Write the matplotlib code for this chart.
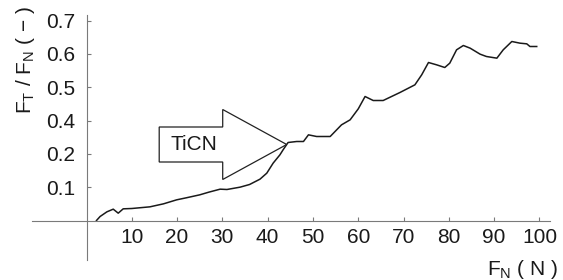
import numpy as np
import matplotlib
matplotlib.use("Agg")
import matplotlib.pyplot as plt
from matplotlib.patches import Polygon
from matplotlib.transforms import ScaledTranslation

plt.rcParams['font.family'] = ['Liberation Sans Narrow', 'Liberation Sans', 'DejaVu Sans']
plt.rcParams['mathtext.default'] = 'regular'

# curve
FN = [2.2, 3.0, 4.5, 5.9, 7.0, 8.1, 10, 14, 17, 19.9, 22, 25, 27, 29.5, 31, 33.9, 36,
      38.3, 39.8, 41.2, 42.7, 43.4, 44.5, 46.4, 47.9, 49, 50.8, 53.8, 56.3, 58.2, 60,
      61.5, 63.3, 65.5, 69.2, 72.5, 74, 75.5, 77.3, 79.1, 80.2, 81.7, 83.2, 84.7,
      86.9, 88.3, 90.6, 92, 93.9, 95.7, 97.2, 97.9, 99.4]
ratio = [0.0, 0.012, 0.026, 0.034, 0.022, 0.035, 0.036, 0.041, 0.05, 0.062, 0.068,
         0.077, 0.085, 0.094, 0.093, 0.1, 0.108, 0.124, 0.142, 0.172, 0.197, 0.212,
         0.234, 0.237, 0.237, 0.257, 0.252, 0.252, 0.287, 0.302, 0.335, 0.372, 0.36,
         0.36, 0.384, 0.407, 0.437, 0.474, 0.467, 0.459, 0.472, 0.512, 0.525, 0.517,
         0.499, 0.492, 0.487, 0.512, 0.537, 0.532, 0.53, 0.522, 0.522]

xticks = [10, 20, 30, 40, 50, 60, 70, 80, 90, 100]
yticks = [0.1, 0.2, 0.3, 0.4, 0.5, 0.6]
ytick_labels = ['0.1', '0.2', '0.4', '0.5', '0.6', '0.7']  # as printed in the source
label_x = 44.2  # where the TiCN arrow points
label_text = 'TiCN'

fig = plt.figure(figsize=(5.63, 2.8), dpi=100)
ax = fig.add_axes([0, 0, 1, 1])
ax.set_xlim(-19.1, 105.2)
ax.set_ylim(-0.1785, 0.6615)

ax.plot(FN, ratio, color='#1a1a1a', lw=1.1)

# axes crossing at origin
axis_col = '#7a7a7a'
for s in ['top', 'right']:
    ax.spines[s].set_visible(False)
ax.spines['left'].set_position(('data', 0))
ax.spines['bottom'].set_position(('data', 0))
ax.spines['left'].set_bounds(-0.119, 0.617)
ax.spines['bottom'].set_bounds(-12.1, 102.3)
for s in ['left', 'bottom']:
    ax.spines[s].set_color(axis_col)
    ax.spines[s].set_linewidth(0.8)

ax.set_xticks(xticks)
ax.set_xticklabels([str(t) for t in xticks])
ax.set_yticks(yticks)
ax.set_yticklabels(ytick_labels)
ax.tick_params(axis='both', direction='in', length=3, width=0.8, color=axis_col,
               labelsize=15, labelcolor='#1a1a1a')
ax.tick_params(axis='x', pad=5.5)
ax.tick_params(axis='y', pad=8.3)

# axis titles
ax.text(0.046, 0.786, 'F$_{T}$ / F$_{N}$ ( \u2212 )', transform=ax.transAxes,
        rotation=90, ha='center', va='center', fontsize=15, color='#1a1a1a')
ax.text(0.991, 0.036, 'F$_{N}$ ( N )', transform=ax.transAxes,
        ha='right', va='center', fontsize=15, color='#1a1a1a')

# block arrow pointing at the curve, shape in pixels around the tip
tip_y = np.interp(label_x, FN, ratio)
trans = fig.dpi_scale_trans + ScaledTranslation(label_x, tip_y, ax.transData)
shape = np.array([(0, 0), (-64, 35), (-64, 17.5), (-127.5, 17.5), (-127.5, -17.5),
                  (-64, -17.5), (-64, -35)]) / 100.0
ax.add_patch(Polygon(shape, closed=True, transform=trans, facecolor='white',
                     edgecolor='#222222', lw=0.9, zorder=3))
ax.text(-0.93, 0.0, label_text, transform=trans, ha='center', va='center',
        fontsize=15, color='#1a1a1a', zorder=4)

fig.savefig('out.png', dpi=100)
